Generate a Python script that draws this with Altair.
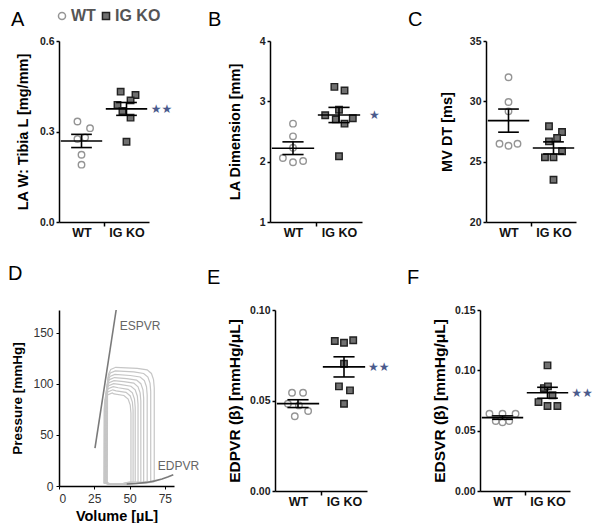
import altair as alt
import pandas as pd

FONT = "Liberation Sans"
GROUPS = ["WT", "IG KO"]

# ---- Panel A: LA W : Tibia L ----
A_WT = [0.333, 0.311, 0.280, 0.275, 0.223, 0.190]
A_WT_JIT = [-0.09, 0.19, 0.08, -0.09, 0.0, 0.0]
A_KO = [0.432, 0.421, 0.403, 0.388, 0.368, 0.346, 0.266]
A_KO_JIT = [-0.13, 0.20, 0.09, -0.20, -0.09, 0.09, 0.0]

# ---- Panel B: LA Dimension ----
B_WT = [2.63, 2.42, 2.23, 2.06, 1.99, 2.01]
B_WT_JIT = [0.0, 0.0, 0.0, -0.22, 0.0, 0.22]
B_KO = [3.24, 3.18, 2.86, 2.77, 2.72, 2.70, 2.63, 2.09]
B_KO_JIT = [-0.10, 0.12, 0.0, -0.30, 0.30, -0.07, 0.12, 0.0]

# ---- Panel C: MV DT ----
C_WT = [32.0, 29.94, 29.17, 26.49, 26.32, 26.49]
C_WT_JIT = [0.0, 0.0, 0.0, -0.2, 0.0, 0.2]
C_KO = [27.93, 27.46, 26.96, 26.68, 25.86, 25.36, 25.36, 23.5]
C_KO_JIT = [-0.10, 0.19, 0.08, -0.10, 0.19, -0.19, 0.0, 0.0]

# ---- Panel E: EDPVR ----
E_WT = [0.0543, 0.0543, 0.0473, 0.0482, 0.0442, 0.0413]
E_WT_JIT = [-0.13, 0.11, 0.02, -0.22, 0.22, -0.07]
E_KO = [0.0829, 0.0819, 0.0833, 0.0703, 0.0578, 0.0556, 0.0482]
E_KO_JIT = [-0.20, 0.0, 0.20, 0.0, -0.11, 0.13, 0.0]

# ---- Panel F: EDSVR ----
F_WT = [0.064, 0.064, 0.064, 0.058, 0.057, 0.058]
F_WT_JIT = [-0.29, 0.0, 0.29, -0.15, 0.0, 0.15]
F_KO = [0.1041, 0.0853, 0.0867, 0.0793, 0.0737, 0.0704, 0.0704]
F_KO_JIT = [0.0, -0.08, 0.01, 0.11, -0.2, 0.0, 0.22]

# ---- Panel D: pressure-volume loops ----
LOOP_V = [
    [67.5, 67.5, 67, 65.5, 62.5, 55.5, 40.2, 36.7, 35, 34.4, 34.2, 38.2, 48.2, 62.5, 67.5],
    [65, 65, 64.5, 63, 60, 53, 39.9, 36.4, 34.7, 34.1, 33.9, 37.9, 47.9, 60, 65],
    [62.5, 62.5, 62, 60.5, 57.5, 50.5, 39.6, 36.1, 34.4, 33.8, 33.6, 37.6, 47.6, 57.5, 62.5],
    [60, 60, 59.5, 58, 55, 48, 39.3, 35.8, 34.1, 33.5, 33.3, 37.3, 47.3, 55, 60],
    [58, 58, 57.5, 56, 53, 46, 39, 35.5, 33.8, 33.2, 33, 37, 47, 53, 58],
    [56, 56, 55.5, 54, 51, 44, 38.7, 35.2, 33.5, 32.9, 32.7, 36.7, 46.7, 51, 56],
    [54, 54, 53.5, 52, 49, 42, 38.4, 34.9, 33.2, 32.6, 32.4, 36.4, 46.4, 49, 54],
    [52.5, 52.5, 52, 50.5, 47.5, 40.5, 38.1, 34.6, 32.9, 32.3, 32.1, 36.1, 46.1, 47.5, 52.5],
    [51, 51, 50.5, 49, 46, 39, 37.8, 34.3, 32.6, 32, 31.8, 35.8, 45.8, 46, 51],
]
LOOP_P = [
    [4, 96, 104, 110, 113.5, 115, 116, 114, 109, 100, 3, 1.5, 2, 3, 4],
    [4, 92.5, 100.5, 106.5, 110, 111.5, 112.5, 110.5, 105.5, 96.5, 3, 1.5, 2, 3, 4],
    [4, 89, 97, 103, 106.5, 108, 109, 107, 102, 93, 3, 1.5, 2, 3, 4],
    [4, 86, 94, 100, 103.5, 105, 106, 104, 99, 90, 3, 1.5, 2, 3, 4],
    [4, 83, 91, 97, 100.5, 102, 103, 101, 96, 87, 3, 1.5, 2, 3, 4],
    [4, 80, 88, 94, 97.5, 99, 100, 98, 93, 84, 3, 1.5, 2, 3, 4],
    [4, 77, 85, 91, 94.5, 96, 97, 95, 90, 81, 3, 1.5, 2, 3, 4],
    [4, 74, 82, 88, 91.5, 93, 94, 92, 87, 78, 3, 1.5, 2, 3, 4],
    [4, 71, 79, 85, 88.5, 90, 91, 89, 84, 75, 3, 1.5, 2, 3, 4],
]
ESPVR_V = [25.5, 40.5]
ESPVR_P = [37, 172]
EDPVR_V = [48, 55, 62, 68, 73, 77, 81]
EDPVR_P = [2, 2.5, 3.5, 5, 6.8, 8.7, 11]
D_XTICKS = [0, 25, 50, 75]
D_YTICKS = [0, 50, 100, 150]

H = 181


def letter_layer(letter, lx, ly):
    return alt.Chart(pd.DataFrame({"t": [letter]})).mark_text(
        align="left", baseline="alphabetic", fontSize=20, font=FONT, color="black"
    ).encode(x=alt.value(lx), y=alt.value(ly), text="t:N")


def scatter_panel(letter, lx, ly, wt, wt_j, ko, ko_j, ytitle, yticks, ydom, fmt,
                  stars, star_x, width, title_x, title_size, legend=False):
    df = pd.DataFrame({
        "group": ["WT"] * len(wt) + ["IG KO"] * len(ko),
        "value": wt + ko,
        "jit": wt_j + ko_j,
    })
    xscale = alt.Scale(domain=[0.5, 2.5], nice=False, zero=False)
    yscale = alt.Scale(domain=ydom, nice=False, zero=False)
    xaxis = alt.Axis(
        values=[1, 1.5, 2],
        labelExpr="datum.value == 1 ? 'WT' : (datum.value == 2 ? 'IG KO' : '')",
        title=None, labelFont=FONT, labelFontSize=12.5, labelFontWeight="bold",
        labelColor="#111", labelAngle=0, labelPadding=0,
        tickOpacity={"condition": {"test": "datum.value == 1.5", "value": 1}, "value": 0},
        tickSize=4, tickWidth=1.5, tickColor="black",
        domainColor="black", domainWidth=1.5, grid=False,
    )
    yaxis = alt.Axis(
        values=yticks, format=fmt, title=ytitle, titleFont=FONT, titleFontSize=title_size,
        titleFontWeight="bold", titleColor="black", titleX=title_x, titleY=H / 2,
        titleAlign="center", titleBaseline="middle", titleAngle=270,
        labelFont=FONT, labelFontSize=10.5, labelFontWeight="bold", labelColor="#222",
        labelPadding=2, tickSize=3, tickWidth=1.5, tickColor="black",
        domainColor="black", domainWidth=1.5, grid=False,
    )
    if legend:
        leg = alt.Legend(orient="none", legendX=-5, legendY=-33, direction="horizontal",
                         title=None, labelFont=FONT, labelFontSize=16, labelFontWeight="bold",
                         labelColor="#555", symbolSize=50, symbolStrokeWidth=1.5,
                         columnPadding=2, labelOffset=1, padding=0)
    else:
        leg = None
    base = alt.Chart(df)
    points = base.transform_calculate(
        xp="(datum.group == 'WT' ? 1 : 2) + datum.jit"
    ).mark_point(filled=True, size=42, strokeWidth=1.4, opacity=1).encode(
        x=alt.X("xp:Q", scale=xscale, axis=xaxis),
        y=alt.Y("value:Q", scale=yscale, axis=yaxis),
        shape=alt.Shape("group:N", scale=alt.Scale(domain=GROUPS, range=["circle", "square"]), legend=leg),
        fill=alt.Fill("group:N", scale=alt.Scale(domain=GROUPS, range=["white", "#707070"]), legend=leg),
        stroke=alt.Stroke("group:N", scale=alt.Scale(domain=GROUPS, range=["#959595", "#222222"]), legend=leg),
    )
    stats = base.transform_aggregate(
        m="mean(value)", se="stderr(value)", groupby=["group"]
    ).transform_calculate(
        pos="datum.group == 'WT' ? 1 : 2",
        xl="(datum.group == 'WT' ? 1 : 2) - 0.46",
        xr="(datum.group == 'WT' ? 1 : 2) + 0.46",
        cl="(datum.group == 'WT' ? 1 : 2) - 0.23",
        cr="(datum.group == 'WT' ? 1 : 2) + 0.23",
        lo="datum.m - datum.se",
        hi="datum.m + datum.se",
    )
    mean_rule = stats.mark_rule(color="black", strokeWidth=1.6).encode(
        x=alt.X("xl:Q", scale=xscale), x2="xr:Q", y=alt.Y("m:Q", scale=yscale))
    vert = stats.mark_rule(color="black", strokeWidth=1.6).encode(
        x=alt.X("pos:Q", scale=xscale), y=alt.Y("lo:Q", scale=yscale), y2="hi:Q")
    cap_hi = stats.mark_rule(color="black", strokeWidth=1.6).encode(
        x=alt.X("cl:Q", scale=xscale), x2="cr:Q", y=alt.Y("hi:Q", scale=yscale))
    cap_lo = stats.mark_rule(color="black", strokeWidth=1.6).encode(
        x=alt.X("cl:Q", scale=xscale), x2="cr:Q", y=alt.Y("lo:Q", scale=yscale))
    layers = [points, mean_rule, vert, cap_hi, cap_lo]
    if stars:
        star = stats.transform_filter("datum.group == 'IG KO'").transform_calculate(
            sx=str(star_x)
        ).mark_text(align="left", baseline="middle", fontSize=12, color="#4a5a8c",
                    font="DejaVu Sans").encode(
            x=alt.X("sx:Q", scale=xscale), y=alt.Y("m:Q", scale=yscale), text=alt.value(stars))
        layers.append(star)
    layers.append(letter_layer(letter, lx, ly))
    return alt.layer(*layers).properties(width=width, height=H)


panelA = scatter_panel("A", -48, -15, A_WT, A_WT_JIT, A_KO, A_KO_JIT,
                       "LA W:  Tibia  L [mg/mm]", [0, 0.3, 0.6], [0, 0.6], ".1f",
                       "★★", 2.54, 90, -36, 14.5, legend=True)
panelB = scatter_panel("B", -62, -15, B_WT, B_WT_JIT, B_KO, B_KO_JIT,
                       "LA Dimension [mm]", [1, 2, 3, 4], [1, 4], "d",
                       "★", 2.65, 92, -35, 14.5)
panelC = scatter_panel("C", -78, -15, C_WT, C_WT_JIT, C_KO, C_KO_JIT,
                       "MV DT [ms]", [20, 25, 30, 35], [20, 35], "d",
                       "", 2.5, 90, -39, 14.5)
panelE = scatter_panel("E", -68, -26, E_WT, E_WT_JIT, E_KO, E_KO_JIT,
                       "EDPVR (β) [mmHg/μL]", [0, 0.05, 0.10], [0, 0.10], ".2f",
                       "★★", 2.52, 92, -41, 15.5)
panelF = scatter_panel("F", -73, -26, F_WT, F_WT_JIT, F_KO, F_KO_JIT,
                       "EDSVR (β) [mmHg/μL]", [0, 0.05, 0.10, 0.15], [0, 0.15], ".2f",
                       "★★", 2.53, 90, -41, 15.5)

# ---- Panel D ----
rows = []
for i, (vs, ps) in enumerate(zip(LOOP_V, LOOP_P)):
    for j, (v, p) in enumerate(zip(vs, ps)):
        rows.append({"loop": i, "idx": j, "V": v, "P": p})
loops_df = pd.DataFrame(rows)
DH = 176
dx_scale = alt.Scale(domain=[0, 81.5], nice=False, zero=False)
dy_scale = alt.Scale(domain=[0, 172], nice=False, zero=False)
d_xaxis = alt.Axis(values=D_XTICKS, format="d", title="Volume [µL]", titleFont=FONT,
                   titleFontSize=14.5, titleFontWeight="bold", titleColor="black", titlePadding=5,
                   labelFont=FONT, labelFontSize=12, labelColor="#333", labelPadding=4,
                   tickSize=3, tickColor="black", domainColor="black", domainWidth=1.5,
                   grid=False, labelOverlap=False, labelSeparation=0)
d_yaxis = alt.Axis(values=D_YTICKS, title="Pressure [mmHg]", titleFont=FONT,
                   titleFontSize=13.5, titleFontWeight="bold", titleColor="black",
                   titleX=-42, titleY=DH / 2, titleAlign="center", titleBaseline="middle",
                   titleAngle=270, labelFont=FONT, labelFontSize=12, labelColor="#333",
                   labelPadding=3, tickSize=3, tickColor="black", domainColor="black",
                   domainWidth=1.5, grid=False)
loops = alt.Chart(loops_df).mark_line(color="#c6c6c6", strokeWidth=1.2).encode(
    x=alt.X("V:Q", scale=dx_scale, axis=d_xaxis),
    y=alt.Y("P:Q", scale=dy_scale, axis=d_yaxis),
    detail="loop:N", order="idx:Q",
)
espvr = alt.Chart(pd.DataFrame({"V": ESPVR_V, "P": ESPVR_P})).mark_line(
    color="#7a7a7a", strokeWidth=1.6).encode(
    x=alt.X("V:Q", scale=dx_scale, axis=d_xaxis), y=alt.Y("P:Q", scale=dy_scale, axis=d_yaxis))
edpvr = alt.Chart(pd.DataFrame({"V": EDPVR_V, "P": EDPVR_P})).mark_line(
    color="#7a7a7a", strokeWidth=1.6).encode(
    x=alt.X("V:Q", scale=dx_scale, axis=d_xaxis), y=alt.Y("P:Q", scale=dy_scale, axis=d_yaxis))
d_labels = alt.Chart(pd.DataFrame({"V": [43, 70], "P": [156, 20], "t": ["ESPVR", "EDPVR"]})).mark_text(
    align="left", baseline="middle", fontSize=12, color="#666", font=FONT).encode(
    x=alt.X("V:Q", scale=dx_scale, axis=d_xaxis), y=alt.Y("P:Q", scale=dy_scale, axis=d_yaxis),
    text="t:N")
panelD = alt.layer(loops, espvr, edpvr, d_labels, letter_layer("D", -51, -30)).properties(
    width=115, height=DH)


def indep(c):
    return c.resolve_scale(shape="independent", fill="independent", stroke="independent")


top = indep(alt.hconcat(panelA, indep(alt.hconcat(panelB, panelC, spacing=124, bounds="flush")),
                        spacing=121, bounds="flush"))
bottom = indep(alt.hconcat(panelD, indep(alt.hconcat(panelE, panelF, spacing=113, bounds="flush")),
                           spacing=101, bounds="flush"))
chart = indep(alt.vconcat(top, bottom, spacing=25)).properties(
    padding=0
).configure(font=FONT).configure_view(stroke=None).configure_axis(labelOverlap=False)

chart.save("out.html", embed_options={"renderer": "svg", "actions": False})
